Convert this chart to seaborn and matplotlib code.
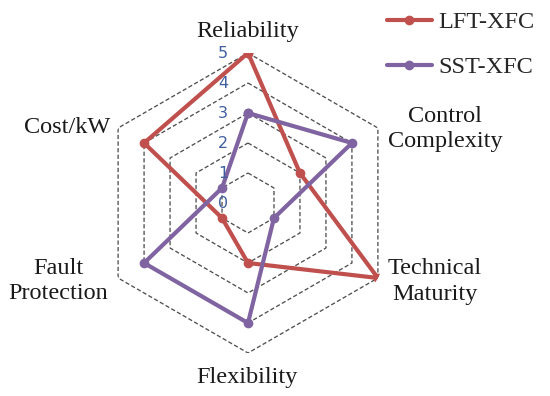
import numpy as np
import pandas as pd
import matplotlib
matplotlib.use("Agg")
import matplotlib.pyplot as plt
import matplotlib.transforms as mtransforms
from matplotlib.lines import Line2D
import seaborn as sns

# ---- data ----
categories = ["Reliability", "Control\nComplexity", "Technical\nMaturity",
              "Flexibility", "Fault\nProtection", "Cost/kW"]
series_names = ["LFT-XFC", "SST-XFC"]
lft_values = [5, 2, 5, 2, 1, 4]
sst_values = [3, 4, 1, 4, 4, 1]
tick_values = [0, 1, 2, 3, 4, 5]
colors = ["#C0504D", "#8064A2"]

sns.set_theme(style="white")
plt.rcParams["font.family"] = ["Liberation Serif", "DejaVu Serif"]

n = len(categories)
angles = np.linspace(0, 2 * np.pi, n, endpoint=False)
angles_closed = np.append(angles, 2 * np.pi)

rows = []
for name, vals in zip(series_names, [lft_values, sst_values]):
    vc = list(vals) + [vals[0]]
    for a, v in zip(angles_closed, vc):
        rows.append({"angle": a, "value": v, "series": name})
df = pd.DataFrame(rows)

fig = plt.figure(figsize=(5.5, 3.96), dpi=100)
ax = fig.add_axes([98 / 550, 43 / 396, 300 / 550, 300 / 396], projection="polar")
ax.set_theta_zero_location("N")
ax.set_theta_direction(-1)
ax.set_ylim(0, 5)

# hexagonal dashed grid
for lvl in tick_values[1:]:
    ax.plot(angles_closed, [lvl] * (n + 1), color="#505050", lw=0.95,
            linestyle=(0, (3.2, 1.8)), zorder=1)

sns.lineplot(data=df, x="angle", y="value", hue="series", palette=colors,
             sort=False, estimator=None, marker="o", markersize=7,
             markeredgecolor="none", linewidth=3, legend=False, ax=ax, zorder=3)

ax.grid(False)
ax.spines["polar"].set_visible(False)
ax.set_xticks([])
ax.set_yticks([])
ax.set_xlabel("")
ax.set_ylabel("")
ax.set_facecolor("none")

# radial tick labels
off = mtransforms.offset_copy(ax.transData, fig=fig, x=-25, y=0, units="dots")
for t in tick_values:
    ax.text(0, t, str(t), transform=off, ha="center", va="center",
            fontsize=11.5, color="#3F5F9F", family="DejaVu Sans", zorder=4)

# category labels
fs = 17.5
lab_pos = {
    0: (0.5, 1.053, "center", "baseline"),
    1: (1.157, 0.747, "center", "center"),
    2: (1.123, 0.237, "center", "center"),
    3: (0.497, -0.10, "center", "baseline"),
    4: (-0.133, 0.24, "center", "center"),
    5: (0.04, 0.733, "right", "baseline"),
}
for i, cat in enumerate(categories):
    x, y, ha, va = lab_pos[i]
    ax.text(x, y, cat, transform=ax.transAxes, ha=ha, va=va, fontsize=fs,
            color="#1a1a1a", linespacing=1.3, clip_on=False)

handles = [Line2D([], [], color=c, lw=3, marker="o", markersize=7,
                  markeredgecolor="none") for c in colors]
fig.legend(handles, series_names, loc="upper left",
           bbox_to_anchor=(387 / 550, 1 - 11 / 396), frameon=False,
           fontsize=fs, handlelength=1.85, handletextpad=0.25,
           labelspacing=0.95, borderpad=0, borderaxespad=0)

fig.savefig("out.png", dpi=100)
